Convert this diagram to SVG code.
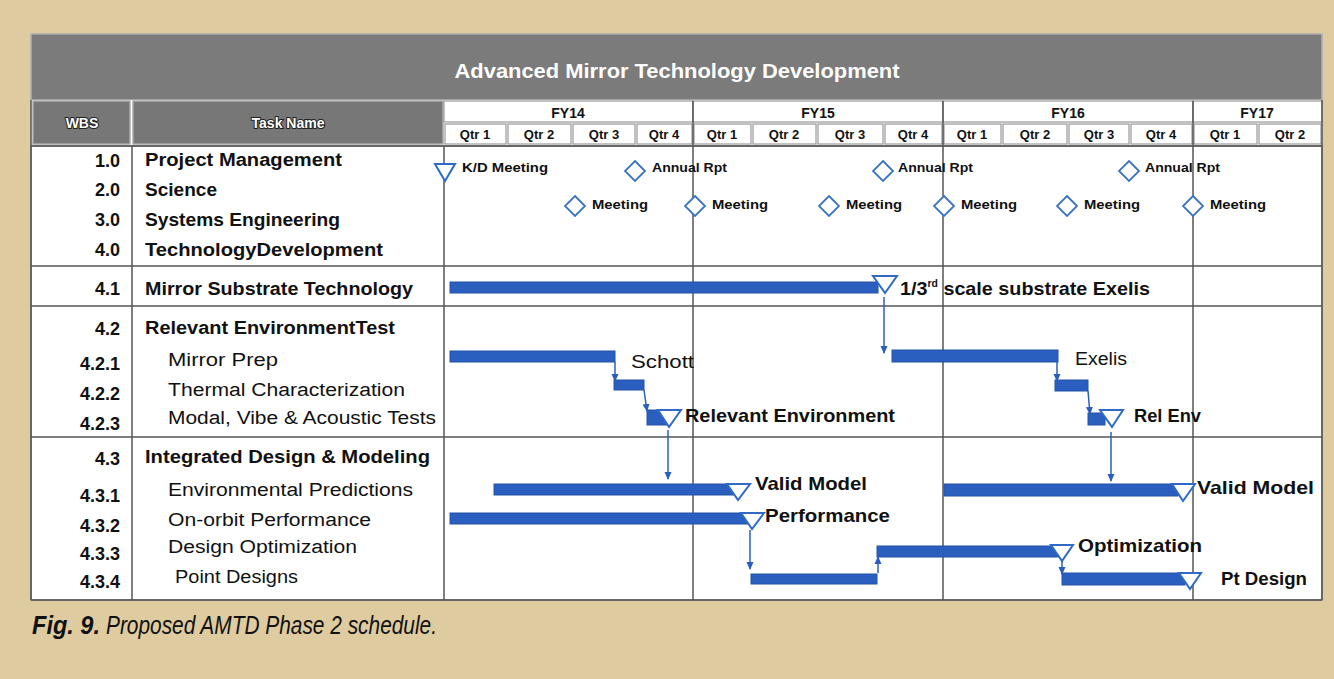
<svg xmlns="http://www.w3.org/2000/svg" width="1334" height="679" viewBox="0 0 1334 679">
<defs>
<style>
.t{font-family:"Liberation Sans",Arial,sans-serif;fill:#111}
.b{font-weight:bold}
.hd{font-family:"Liberation Sans",Arial,sans-serif;font-weight:bold;fill:#fff}
.grid{stroke:#555;stroke-width:1.5;fill:none}
.cell{fill:#fff;stroke:#999;stroke-width:1.2}
.bar{fill:#2b5fbf;stroke:#2452a8;stroke-width:1}
.ms{fill:#fff;stroke:#2e6ac6;stroke-width:2}
.dm{fill:#fff;stroke:#3a74c4;stroke-width:1.8}
.con{stroke:#2b5fbf;stroke-width:1.5;fill:none;marker-end:url(#ah)}
.lbl{font-family:"Liberation Sans",Arial,sans-serif;font-weight:bold;fill:#111;font-size:19px}
.sm{font-family:"Liberation Sans",Arial,sans-serif;font-weight:bold;fill:#111;font-size:12px}
.cap{font-family:"Liberation Sans",Arial,sans-serif;font-style:italic;font-size:25px;fill:#111}
</style>
<marker id="ah" markerWidth="8" markerHeight="8" refX="7" refY="4" orient="auto" markerUnits="userSpaceOnUse" viewBox="0 0 8 8">
<path d="M0,0.5 L8,4 L0,7.5 Z" fill="#2b5fbf"/>
</marker>
</defs>
<rect x="0" y="0" width="1334" height="679" fill="#dfcba0"/>

<g id="table">
<rect x="31" y="34" width="1291" height="66" fill="#7b7b7b" stroke="#b0b0b0" stroke-width="1.5"/>
<text class="hd" x="677" y="78" font-size="21" text-anchor="middle" textLength="445" lengthAdjust="spacingAndGlyphs">Advanced Mirror Technology Development</text>
<rect x="31" y="100" width="1291" height="46" fill="#fff"/>
<rect x="33" y="101" width="97" height="43" fill="#777" stroke="#aaa" stroke-width="1.5"/>
<rect x="133" y="101" width="310" height="43" fill="#777" stroke="#aaa" stroke-width="1.5"/>
<text class="hd" x="82" y="128" font-size="14" text-anchor="middle" stroke="#222" stroke-width="2" paint-order="stroke">WBS</text>
<text class="hd" x="288" y="128" font-size="14" text-anchor="middle" stroke="#222" stroke-width="2" paint-order="stroke">Task Name</text>
<rect x="31" y="146" width="1291" height="454" fill="#fff" stroke="#888" stroke-width="1.5"/>
</g>

<g id="gantt-header">
<rect class="cell" x="444" y="101" width="249" height="21"/>
<rect class="cell" x="693" y="101" width="250" height="21"/>
<rect class="cell" x="943" y="101" width="250" height="21"/>
<rect class="cell" x="1193" y="101" width="129" height="21"/>
<text class="t b" x="568" y="118" font-size="14" text-anchor="middle">FY14</text>
<text class="t b" x="818" y="118" font-size="14" text-anchor="middle">FY15</text>
<text class="t b" x="1068" y="118" font-size="14" text-anchor="middle">FY16</text>
<text class="t b" x="1257" y="118" font-size="14" text-anchor="middle">FY17</text>
<rect class="cell" x="445" y="124" width="61" height="20"/>
<rect class="cell" x="508" y="124" width="63" height="20"/>
<rect class="cell" x="573" y="124" width="62" height="20"/>
<rect class="cell" x="637" y="124" width="55" height="20"/>
<rect class="cell" x="694" y="124" width="57" height="20"/>
<rect class="cell" x="753" y="124" width="63" height="20"/>
<rect class="cell" x="818" y="124" width="65" height="20"/>
<rect class="cell" x="885" y="124" width="57" height="20"/>
<rect class="cell" x="944" y="124" width="57" height="20"/>
<rect class="cell" x="1003" y="124" width="64" height="20"/>
<rect class="cell" x="1069" y="124" width="60" height="20"/>
<rect class="cell" x="1131" y="124" width="61" height="20"/>
<rect class="cell" x="1194" y="124" width="63" height="20"/>
<rect class="cell" x="1259" y="124" width="62" height="20"/>
<g class="t b" font-size="13" text-anchor="middle">
<text x="475" y="139">Qtr 1</text>
<text x="539" y="139">Qtr 2</text>
<text x="604" y="139">Qtr 3</text>
<text x="664" y="139">Qtr 4</text>
<text x="722" y="139">Qtr 1</text>
<text x="784" y="139">Qtr 2</text>
<text x="850" y="139">Qtr 3</text>
<text x="913" y="139">Qtr 4</text>
<text x="972" y="139">Qtr 1</text>
<text x="1035" y="139">Qtr 2</text>
<text x="1099" y="139">Qtr 3</text>
<text x="1161" y="139">Qtr 4</text>
<text x="1225" y="139">Qtr 1</text>
<text x="1290" y="139">Qtr 2</text>
</g>
</g>

<g id="grid">
<line class="grid" x1="31" y1="146" x2="1322" y2="146"/>
<line class="grid" x1="31" y1="266" x2="1322" y2="266"/>
<line class="grid" x1="31" y1="306" x2="1322" y2="306"/>
<line class="grid" x1="31" y1="437" x2="1322" y2="437"/>
<line class="grid" x1="31" y1="600" x2="1322" y2="600"/>
<line class="grid" x1="132" y1="146" x2="132" y2="600"/>
<line class="grid" x1="444" y1="146" x2="444" y2="600"/>
<line class="grid" x1="693" y1="101" x2="693" y2="600"/>
<line class="grid" x1="943" y1="101" x2="943" y2="600"/>
<line class="grid" x1="1193" y1="101" x2="1193" y2="600"/>
<line class="grid" x1="1322" y1="100" x2="1322" y2="600"/>
<line class="grid" x1="31" y1="100" x2="31" y2="600"/>
</g>

<g id="wbs" class="t b" font-size="18" text-anchor="end">
<text x="120" y="167">1.0</text>
<text x="120" y="196">2.0</text>
<text x="120" y="226">3.0</text>
<text x="120" y="256">4.0</text>
<text x="120" y="295">4.1</text>
<text x="120" y="335">4.2</text>
<text x="120" y="370">4.2.1</text>
<text x="120" y="400">4.2.2</text>
<text x="120" y="430">4.2.3</text>
<text x="120" y="465">4.3</text>
<text x="120" y="502">4.3.1</text>
<text x="120" y="532">4.3.2</text>
<text x="120" y="560">4.3.3</text>
<text x="120" y="588">4.3.4</text>
</g>

<g id="tasks" class="t" font-size="18">
<text class="b" x="145" y="166" textLength="197" lengthAdjust="spacingAndGlyphs">Project Management</text>
<text class="b" x="145" y="196" textLength="72" lengthAdjust="spacingAndGlyphs">Science</text>
<text class="b" x="145" y="226" textLength="195" lengthAdjust="spacingAndGlyphs">Systems Engineering</text>
<text class="b" x="145" y="256" textLength="238" lengthAdjust="spacingAndGlyphs">TechnologyDevelopment</text>
<text class="b" x="145" y="295" textLength="268" lengthAdjust="spacingAndGlyphs">Mirror Substrate Technology</text>
<text class="b" x="145" y="334" textLength="250" lengthAdjust="spacingAndGlyphs">Relevant EnvironmentTest</text>
<text x="168" y="366" textLength="110" lengthAdjust="spacingAndGlyphs">Mirror Prep</text>
<text x="168" y="396" textLength="237" lengthAdjust="spacingAndGlyphs">Thermal  Characterization</text>
<text x="168" y="424" textLength="268" lengthAdjust="spacingAndGlyphs">Modal, Vibe &amp; Acoustic Tests</text>
<text class="b" x="145" y="463" textLength="285" lengthAdjust="spacingAndGlyphs">Integrated Design &amp; Modeling</text>
<text x="168" y="496" textLength="245" lengthAdjust="spacingAndGlyphs">Environmental Predictions</text>
<text x="168" y="526" textLength="203" lengthAdjust="spacingAndGlyphs">On-orbit Performance</text>
<text x="168" y="553" textLength="189" lengthAdjust="spacingAndGlyphs">Design Optimization</text>
<text x="175" y="583" textLength="123" lengthAdjust="spacingAndGlyphs">Point Designs</text>
</g>

<g id="milestones-top">
<path class="ms" d="M435,164 L455,164 L445,181 Z"/>
<text class="sm" x="462" y="172" textLength="86" lengthAdjust="spacingAndGlyphs">K/D Meeting</text>
<path class="dm" d="M635,161 L645,171 L635,181 L625,171 Z"/>
<text class="sm" x="652" y="172" textLength="75" lengthAdjust="spacingAndGlyphs">Annual Rpt</text>
<path class="dm" d="M883,161 L893,171 L883,181 L873,171 Z"/>
<text class="sm" x="898" y="172" textLength="75" lengthAdjust="spacingAndGlyphs">Annual Rpt</text>
<path class="dm" d="M1129,161 L1139,171 L1129,181 L1119,171 Z"/>
<text class="sm" x="1145" y="172" textLength="75" lengthAdjust="spacingAndGlyphs">Annual Rpt</text>
<path class="dm" d="M575,196 L585,206 L575,216 L565,206 Z"/>
<text class="sm" x="592" y="209" textLength="56" lengthAdjust="spacingAndGlyphs">Meeting</text>
<path class="dm" d="M695,196 L705,206 L695,216 L685,206 Z"/>
<text class="sm" x="712" y="209" textLength="56" lengthAdjust="spacingAndGlyphs">Meeting</text>
<path class="dm" d="M829,196 L839,206 L829,216 L819,206 Z"/>
<text class="sm" x="846" y="209" textLength="56" lengthAdjust="spacingAndGlyphs">Meeting</text>
<path class="dm" d="M944,196 L954,206 L944,216 L934,206 Z"/>
<text class="sm" x="961" y="209" textLength="56" lengthAdjust="spacingAndGlyphs">Meeting</text>
<path class="dm" d="M1067,196 L1077,206 L1067,216 L1057,206 Z"/>
<text class="sm" x="1084" y="209" textLength="56" lengthAdjust="spacingAndGlyphs">Meeting</text>
<path class="dm" d="M1193,196 L1203,206 L1193,216 L1183,206 Z"/>
<text class="sm" x="1210" y="209" textLength="56" lengthAdjust="spacingAndGlyphs">Meeting</text>
</g>

<g id="bars">
<rect class="bar" x="450" y="282" width="428" height="11"/>
<rect class="bar" x="450" y="351" width="165" height="11"/>
<rect class="bar" x="614" y="380" width="30" height="10"/>
<rect class="bar" x="647" y="410" width="20" height="15"/>
<rect class="bar" x="892" y="350" width="166" height="12"/>
<rect class="bar" x="1055" y="380" width="33" height="11"/>
<rect class="bar" x="1088" y="413" width="17" height="12"/>
<rect class="bar" x="494" y="484" width="240" height="11"/>
<rect class="bar" x="944" y="484" width="234" height="12"/>
<rect class="bar" x="450" y="513" width="298" height="11"/>
<rect class="bar" x="751" y="574" width="126" height="10"/>
<rect class="bar" x="877" y="546" width="181" height="11"/>
<rect class="bar" x="1062" y="573" width="123" height="12"/>
</g>

<g id="milestones">
<path class="ms" d="M873,276 L897,276 L885,293 Z"/>
<path class="ms" d="M658,410 L681,410 L669,427 Z"/>
<path class="ms" d="M1100,410 L1123,410 L1112,427 Z"/>
<path class="ms" d="M727,484 L750,484 L738,500 Z"/>
<path class="ms" d="M1172,484 L1195,484 L1183,501 Z"/>
<path class="ms" d="M741,513 L764,513 L752,529 Z"/>
<path class="ms" d="M1051,545 L1073,545 L1062,561 Z"/>
<path class="ms" d="M1179,573 L1201,573 L1190,589 Z"/>
</g>

<g id="connectors">
<line class="con" x1="884" y1="297" x2="884" y2="353"/>
<line class="con" x1="615" y1="362" x2="615" y2="381"/>
<line class="con" x1="644" y1="390" x2="647" y2="411"/>
<line class="con" x1="668" y1="430" x2="668" y2="479"/>
<line class="con" x1="1057" y1="362" x2="1057" y2="381"/>
<line class="con" x1="1088" y1="391" x2="1090" y2="414"/>
<line class="con" x1="1111" y1="432" x2="1111" y2="481"/>
<line class="con" x1="750" y1="530" x2="750" y2="569"/>
<line class="con" x1="878" y1="573" x2="878" y2="557"/>
<line class="con" x1="1062" y1="561" x2="1062" y2="574"/>
</g>

<g id="labels">
<text class="lbl" x="900" y="295" textLength="250" lengthAdjust="spacingAndGlyphs">1/3<tspan font-size="10" dy="-8">rd</tspan><tspan dy="8"> scale substrate Exelis</tspan></text>
<text class="t" x="631" y="368" font-size="18" textLength="63" lengthAdjust="spacingAndGlyphs">Schott</text>
<text class="lbl" x="685" y="422" textLength="210" lengthAdjust="spacingAndGlyphs">Relevant Environment</text>
<text class="t" x="1075" y="365" font-size="18" textLength="52" lengthAdjust="spacingAndGlyphs">Exelis</text>
<text class="lbl" x="1134" y="422" textLength="67" lengthAdjust="spacingAndGlyphs">Rel Env</text>
<text class="lbl" x="755" y="490" textLength="112" lengthAdjust="spacingAndGlyphs">Valid Model</text>
<text class="lbl" x="1197" y="494" textLength="117" lengthAdjust="spacingAndGlyphs">Valid Model</text>
<text class="lbl" x="765" y="522" textLength="125" lengthAdjust="spacingAndGlyphs">Performance</text>
<text class="lbl" x="1078" y="552" textLength="124" lengthAdjust="spacingAndGlyphs">Optimization</text>
<text class="lbl" x="1221" y="585" textLength="86" lengthAdjust="spacingAndGlyphs">Pt Design</text>
</g>

<g id="caption">
<text class="cap" x="32" y="634" font-weight="bold" textLength="68" lengthAdjust="spacingAndGlyphs">Fig. 9.</text>
<text class="cap" x="106" y="634" textLength="331" lengthAdjust="spacingAndGlyphs">Proposed AMTD Phase 2 schedule.</text>
</g>
</svg>
